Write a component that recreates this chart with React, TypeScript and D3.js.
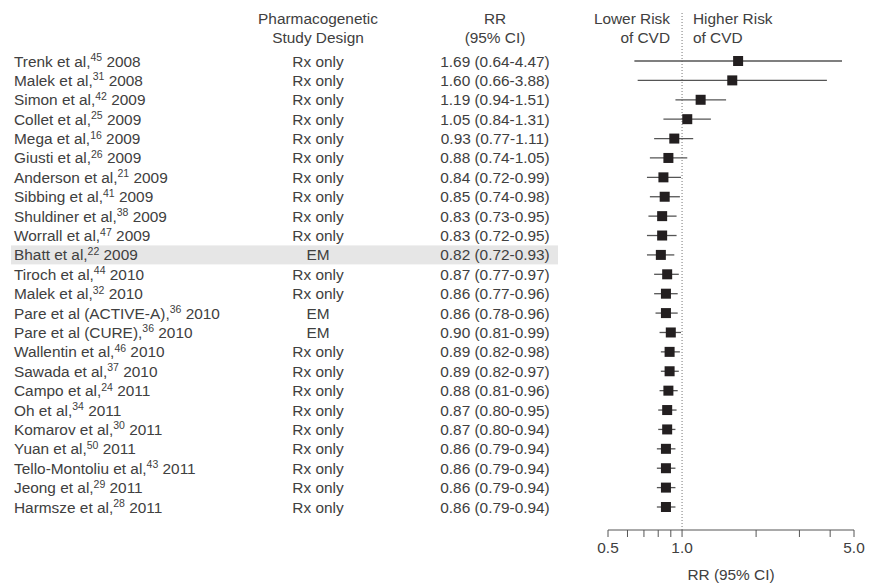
import * as d3 from 'd3';

const authors = [
  'Trenk et al,', 'Malek et al,', 'Simon et al,', 'Collet et al,', 'Mega et al,', 'Giusti et al,',
  'Anderson et al,', 'Sibbing et al,', 'Shuldiner et al,', 'Worrall et al,', 'Bhatt et al,',
  'Tiroch et al,', 'Malek et al,', 'Pare et al (ACTIVE-A),', 'Pare et al (CURE),', 'Wallentin et al,',
  'Sawada et al,', 'Campo et al,', 'Oh et al,', 'Komarov et al,', 'Yuan et al,',
  'Tello-Montoliu et al,', 'Jeong et al,', 'Harmsze et al,',
];
const refs = ['45', '31', '42', '25', '16', '26', '21', '41', '38', '47', '22', '44', '32', '36', '36', '46', '37', '24', '34', '30', '50', '43', '29', '28'];
const years = [2008, 2008, 2009, 2009, 2009, 2009, 2009, 2009, 2009, 2009, 2009, 2010, 2010, 2010, 2010, 2010, 2010, 2011, 2011, 2011, 2011, 2011, 2011, 2011];
const designs = ['Rx only', 'Rx only', 'Rx only', 'Rx only', 'Rx only', 'Rx only', 'Rx only', 'Rx only', 'Rx only', 'Rx only', 'EM', 'Rx only', 'Rx only', 'EM', 'EM', 'Rx only', 'Rx only', 'Rx only', 'Rx only', 'Rx only', 'Rx only', 'Rx only', 'Rx only', 'Rx only'];
const rr = [1.69, 1.6, 1.19, 1.05, 0.93, 0.88, 0.84, 0.85, 0.83, 0.83, 0.82, 0.87, 0.86, 0.86, 0.9, 0.89, 0.89, 0.88, 0.87, 0.87, 0.86, 0.86, 0.86, 0.86];
const lo = [0.64, 0.66, 0.94, 0.84, 0.77, 0.74, 0.72, 0.74, 0.73, 0.72, 0.72, 0.77, 0.77, 0.78, 0.81, 0.82, 0.82, 0.81, 0.8, 0.8, 0.79, 0.79, 0.79, 0.79];
const hi = [4.47, 3.88, 1.51, 1.31, 1.11, 1.05, 0.99, 0.98, 0.95, 0.95, 0.93, 0.97, 0.96, 0.96, 0.99, 0.98, 0.97, 0.96, 0.95, 0.94, 0.94, 0.94, 0.94, 0.94];
const highlightRow = 10;
const tickValues = [0.5, 0.6, 0.7, 0.8, 0.9, 1, 2, 3, 4, 5];
const tickLabels = [0.5, 1, 5];

const W = 875;
const H = 585;
const FONT = '"Liberation Sans", Arial, Helvetica, sans-serif';
const TEXT = '#404040';

export default function App() {
  const idx = authors.map((_, i) => i);
  const y = d3.scalePoint<number>().domain(idx).range([61, 507]);
  const x = d3.scaleLog().domain([0.5, 5]).range([608, 854]);
  const axisY = 530;
  const colName = 14;
  const colDesign = 318;
  const colRR = 495;
  const sq = 10;
  const fmt = (v: number) => v.toFixed(2);

  return (
    <svg
      width={W}
      height={H}
      style={{ position: 'absolute', left: 0, top: 0, background: '#fff' }}
      fontFamily={FONT}
      fontSize={15.4}
      fill={TEXT}
    >
      {/* highlighted row */}
      <rect x={11} y={y(highlightRow)! - 9.5} width={547} height={19} fill="#e6e6e6" />

      {/* headers */}
      <g textAnchor="middle">
        <text x={colDesign} y={24}>Pharmacogenetic</text>
        <text x={colDesign} y={43}>Study Design</text>
        <text x={colRR} y={24}>RR</text>
        <text x={colRR} y={43}>(95% CI)</text>
      </g>
      <g textAnchor="end">
        <text x={670} y={24}>Lower Risk</text>
        <text x={670} y={43}>of CVD</text>
      </g>
      <text x={693} y={24}>Higher Risk</text>
      <text x={693} y={43}>of CVD</text>

      {/* table rows */}
      {idx.map((i) => (
        <g key={i} transform={`translate(0,${y(i)! + 5.5})`}>
          <text x={colName}>
            {authors[i]}
            <tspan fontSize={10.5} dy={-5.5}>{refs[i]}</tspan>
            <tspan dy={5.5}>{' ' + years[i]}</tspan>
          </text>
          <text x={colDesign} textAnchor="middle">{designs[i]}</text>
          <text x={colRR} textAnchor="middle">
            {`${fmt(rr[i])} (${fmt(lo[i])}-${fmt(hi[i])})`}
          </text>
        </g>
      ))}

      {/* reference line */}
      <line x1={x(1)} x2={x(1)} y1={13} y2={axisY} stroke="#777" strokeWidth={1} strokeDasharray="1,2" />

      {/* estimates */}
      {idx.map((i) => (
        <g key={i}>
          <line x1={x(lo[i])} x2={x(hi[i])} y1={y(i)!} y2={y(i)!} stroke="#555" strokeWidth={1.3} />
          <rect x={x(rr[i]) - sq / 2} y={y(i)! - sq / 2} width={sq} height={sq} fill="#231f20" />
        </g>
      ))}

      {/* axis */}
      <line x1={x(0.5)} x2={x(5)} y1={axisY} y2={axisY} stroke="#555" strokeWidth={1} />
      {tickValues.map((t) => (
        <line key={t} x1={x(t)} x2={x(t)} y1={axisY} y2={axisY + 7} stroke="#555" strokeWidth={1} />
      ))}
      {tickLabels.map((t) => (
        <text key={t} x={x(t)} y={axisY + 22.5} textAnchor="middle">{t.toFixed(1)}</text>
      ))}
      <text x={(x(0.5) + x(5)) / 2} y={580} textAnchor="middle">RR (95% CI)</text>
    </svg>
  );
}
